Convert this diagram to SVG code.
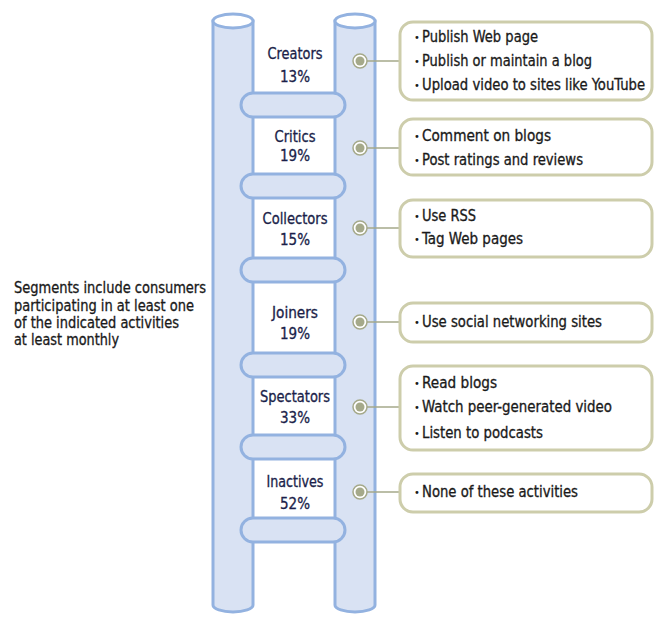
<svg xmlns="http://www.w3.org/2000/svg" width="656" height="619" viewBox="0 0 656 619">
<style>
.pole{fill:#d9e2f3;stroke:#93b2e0;stroke-width:3}
.cap{fill:#ffffff;stroke:#93b2e0;stroke-width:3}
.rung{fill:#d9e2f3;stroke:#93b2e0;stroke-width:3}
.box{fill:#ffffff;stroke:#cdcdab;stroke-width:3}
.lnk{stroke:#a5a98a;stroke-width:1.5;fill:none}
.dot-o{fill:#ffffff;stroke:#a5a98a;stroke-width:1.5}
.dot-i{fill:#a5a98a}
text{font-family:"Liberation Sans Narrow","DejaVu Sans Condensed","Liberation Sans",sans-serif;font-size:15px;stroke-width:0.3}
.lbl{fill:#1b1f4a;stroke:#1b1f4a;text-anchor:middle}
.itm{fill:#1a1a1a;stroke:#1a1a1a}
.bul{fill:#1a1a1a;font-size:11px}
</style>
<g id="ladder">
<path class="pole" d="M213,21 V605 A20,7 0 0 0 253,605 V21 Z"/>
<ellipse class="cap" cx="233" cy="21" rx="20" ry="7"/>
<path class="pole" d="M335,21 V605 A20,7 0 0 0 375,605 V21 Z"/>
<ellipse class="cap" cx="355" cy="21" rx="20" ry="7"/>
<rect class="rung" x="241" y="93" width="104" height="24" rx="12"/>
<rect class="rung" x="241" y="174" width="104" height="24" rx="12"/>
<rect class="rung" x="241" y="258" width="104" height="24" rx="12"/>
<rect class="rung" x="241" y="353" width="104" height="24" rx="12"/>
<rect class="rung" x="241" y="435" width="104" height="24" rx="12"/>
<rect class="rung" x="241" y="518" width="104" height="24" rx="12"/>
</g>
<g id="connectors">
<line class="lnk" x1="367" y1="61" x2="399" y2="61"/>
<line class="lnk" x1="367" y1="148" x2="399" y2="148"/>
<line class="lnk" x1="367" y1="228" x2="399" y2="228"/>
<line class="lnk" x1="367" y1="322" x2="399" y2="322"/>
<line class="lnk" x1="367" y1="407" x2="399" y2="407"/>
<line class="lnk" x1="367" y1="492" x2="399" y2="492"/>
</g>
<g id="dots">
<circle class="dot-o" cx="360" cy="61" r="7"/><circle class="dot-i" cx="360" cy="61" r="4.5"/>
<circle class="dot-o" cx="360" cy="148" r="7"/><circle class="dot-i" cx="360" cy="148" r="4.5"/>
<circle class="dot-o" cx="360" cy="228" r="7"/><circle class="dot-i" cx="360" cy="228" r="4.5"/>
<circle class="dot-o" cx="360" cy="322" r="7"/><circle class="dot-i" cx="360" cy="322" r="4.5"/>
<circle class="dot-o" cx="360" cy="407" r="7"/><circle class="dot-i" cx="360" cy="407" r="4.5"/>
<circle class="dot-o" cx="360" cy="492" r="7"/><circle class="dot-i" cx="360" cy="492" r="4.5"/>
</g>
<g id="creators">
<text class="lbl" x="295" y="59" textLength="55" lengthAdjust="spacingAndGlyphs">Creators</text><text class="lbl" x="295" y="82">13%</text>
<rect class="box" x="400" y="22" width="252" height="78" rx="13"/>
<text class="bul" x="414" y="41">•</text><text class="itm" x="422" y="42" textLength="116" lengthAdjust="spacingAndGlyphs">Publish Web page</text>
<text class="bul" x="414" y="65">•</text><text class="itm" x="422" y="66" textLength="170" lengthAdjust="spacingAndGlyphs">Publish or maintain a blog</text>
<text class="bul" x="414" y="89">•</text><text class="itm" x="422" y="90" textLength="223" lengthAdjust="spacingAndGlyphs">Upload video to sites like YouTube</text>
</g>
<g id="critics">
<text class="lbl" x="295" y="142" textLength="41" lengthAdjust="spacingAndGlyphs">Critics</text><text class="lbl" x="295" y="161">19%</text>
<rect class="box" x="400" y="119" width="252" height="56" rx="13"/>
<text class="bul" x="414" y="140">•</text><text class="itm" x="422" y="141" textLength="129" lengthAdjust="spacingAndGlyphs">Comment on blogs</text>
<text class="bul" x="414" y="164">•</text><text class="itm" x="422" y="165" textLength="161" lengthAdjust="spacingAndGlyphs">Post ratings and reviews</text>
</g>
<g id="collectors">
<text class="lbl" x="295" y="224" textLength="65" lengthAdjust="spacingAndGlyphs">Collectors</text><text class="lbl" x="295" y="245">15%</text>
<rect class="box" x="400" y="200" width="252" height="57" rx="13"/>
<text class="bul" x="414" y="220">•</text><text class="itm" x="422" y="221" textLength="54" lengthAdjust="spacingAndGlyphs">Use RSS</text>
<text class="bul" x="414" y="243">•</text><text class="itm" x="422" y="244" textLength="101" lengthAdjust="spacingAndGlyphs">Tag Web pages</text>
</g>
<g id="joiners">
<text class="lbl" x="295" y="318" textLength="46" lengthAdjust="spacingAndGlyphs">Joiners</text><text class="lbl" x="295" y="339">19%</text>
<rect class="box" x="400" y="303" width="252" height="39" rx="13"/>
<text class="bul" x="414" y="326">•</text><text class="itm" x="422" y="327" textLength="180" lengthAdjust="spacingAndGlyphs">Use social networking sites</text>
</g>
<g id="spectators">
<text class="lbl" x="295" y="402" textLength="70" lengthAdjust="spacingAndGlyphs">Spectators</text><text class="lbl" x="295" y="423">33%</text>
<rect class="box" x="400" y="366" width="252" height="84" rx="13"/>
<text class="bul" x="414" y="387">•</text><text class="itm" x="422" y="388" textLength="75" lengthAdjust="spacingAndGlyphs">Read blogs</text>
<text class="bul" x="414" y="411">•</text><text class="itm" x="422" y="412" textLength="190" lengthAdjust="spacingAndGlyphs">Watch peer-generated video</text>
<text class="bul" x="414" y="437">•</text><text class="itm" x="422" y="438" textLength="121" lengthAdjust="spacingAndGlyphs">Listen to podcasts</text>
</g>
<g id="inactives">
<text class="lbl" x="295" y="487" textLength="57" lengthAdjust="spacingAndGlyphs">Inactives</text><text class="lbl" x="295" y="509">52%</text>
<rect class="box" x="400" y="474" width="252" height="38" rx="13"/>
<text class="bul" x="414" y="496">•</text><text class="itm" x="422" y="497" textLength="156" lengthAdjust="spacingAndGlyphs">None of these activities</text>
</g>
<g id="note">
<text class="itm" x="14" y="293" textLength="192" lengthAdjust="spacingAndGlyphs">Segments include consumers</text>
<text class="itm" x="14" y="311" textLength="180" lengthAdjust="spacingAndGlyphs">participating in at least one</text>
<text class="itm" x="14" y="328" textLength="165" lengthAdjust="spacingAndGlyphs">of the indicated activities</text>
<text class="itm" x="14" y="345" textLength="105" lengthAdjust="spacingAndGlyphs">at least monthly</text>
</g>
</svg>
